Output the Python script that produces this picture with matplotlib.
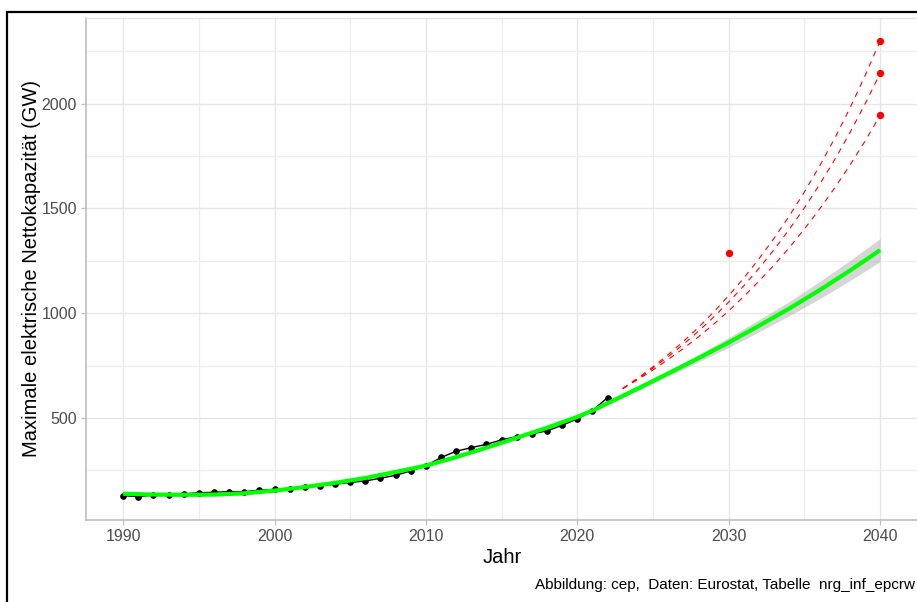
import matplotlib
matplotlib.use("Agg")
import matplotlib.pyplot as plt
from matplotlib.patches import Rectangle
from matplotlib.ticker import MultipleLocator, FixedLocator

plt.rcParams['font.family'] = ['Liberation Sans', 'DejaVu Sans']

# ---- data -------------------------------------------------------------
years_obs = list(range(1990, 2023))
capacity_obs = [129, 124, 132, 132, 137, 143, 145, 148, 148, 155,
                159, 161, 169, 177, 183, 192, 199, 212, 226, 247,
                272, 311, 341, 358, 374, 395, 411, 424, 438, 465,
                495, 535, 597]

fit_years = [1990, 1992, 1994, 1996, 1998, 2000, 2002, 2004, 2006, 2008,
             2010, 2012, 2014, 2016, 2018, 2020, 2021, 2022, 2023, 2024,
             2025, 2026, 2028, 2030, 2032, 2034, 2036, 2038, 2040]
fit_vals = [138, 134, 133, 134, 140, 153, 170, 190, 213, 242,
            272, 313, 358, 405, 453, 505, 535, 570, 605, 640,
            676, 712, 785, 860, 940, 1022, 1110, 1203, 1301]
fit_halfwidth = [10, 8, 7, 6, 6, 6, 5, 5, 5, 5,
                 5, 5, 5, 5, 6, 6, 7, 8, 9, 10,
                 11, 13, 18, 24, 29, 34, 41, 48, 55]

target_years = [2030, 2040, 2040, 2040]
target_vals = [1288, 2300, 2146, 1944]

path_years = list(range(2023, 2041))
path_high = [640, 690, 744, 802, 865, 932, 1005, 1084, 1168, 1260,
             1358, 1464, 1579, 1702, 1835, 1978, 2133, 2300]
path_mid = [640, 687, 738, 792, 851, 914, 981, 1053, 1131, 1214,
            1304, 1400, 1503, 1614, 1733, 1861, 1998, 2145]
path_low = [640, 683, 729, 779, 831, 887, 947, 1011, 1080, 1153,
            1230, 1313, 1402, 1497, 1598, 1706, 1821, 1944]

x_ticks = [1990, 2000, 2010, 2020, 2030, 2040]
y_ticks = [500, 1000, 1500, 2000]

# ---- figure -----------------------------------------------------------
W, H = 917, 602
fig = plt.figure(figsize=(W / 100, H / 100), dpi=100)
ax = fig.add_axes([86 / W, (H - 519.5) / H, (918 - 86) / W, (519.5 - 18) / H])

ax.set_xlim(1987.55, 2042.5)
ax.set_ylim(15, 2409)

# grid
ax.xaxis.set_major_locator(FixedLocator(x_ticks))
ax.xaxis.set_minor_locator(MultipleLocator(5))
ax.yaxis.set_major_locator(FixedLocator(y_ticks))
ax.yaxis.set_minor_locator(FixedLocator([250, 750, 1250, 1750, 2250]))
ax.grid(which='major', color='#E6E6E6', linewidth=1.0, zorder=0)
ax.grid(which='minor', color='#EDEDED', linewidth=0.9, zorder=0)
ax.set_axisbelow(True)

# ribbon
lo = [v - h for v, h in zip(fit_vals, fit_halfwidth)]
hi = [v + h for v, h in zip(fit_vals, fit_halfwidth)]
ax.fill_between(fit_years, lo, hi, color='#999999', alpha=0.4,
                linewidth=0, zorder=2)

# red dashed paths
for p in (path_high, path_mid, path_low):
    ln, = ax.plot(path_years, p, color='red', linewidth=0.8, zorder=3)
    ln.set_dashes([5, 5])

# observed
ax.plot(years_obs, capacity_obs, color='black', linewidth=1.0, zorder=4)
ax.plot(years_obs, capacity_obs, 'o', color='black', markersize=4.8,
        markeredgewidth=0, zorder=5)

# fitted curve
ax.plot(fit_years, fit_vals, color='#00FF00', linewidth=3.0,
        solid_capstyle='butt', zorder=6)

# targets
ax.plot(target_years, target_vals, 'o', color='red', markersize=5.3,
        markeredgewidth=0, zorder=7)

# axes styling
for s in ('left', 'bottom'):
    ax.spines[s].set_color('#BEBEBE')
    ax.spines[s].set_linewidth(1.2)
ax.spines['top'].set_color('#E3E3E3')
ax.spines['top'].set_linewidth(1.0)
ax.spines['right'].set_visible(False)

ax.tick_params(which='major', length=3.5, width=0.9, color='#BEBEBE',
               labelcolor='#4D4D4D', labelsize=11.5, pad=3)
ax.tick_params(which='minor', length=0)

ax.set_xlabel('Jahr', fontsize=14.5, color='black', labelpad=3)
ax.set_ylabel('Maximale elektrische Nettokapazität (GW)', fontsize=14.5,
              color='black', labelpad=0)

fig.text(535 / W, 1 - 585 / H,
         'Abbildung: cep,  Daten: Eurostat, Tabelle  nrg_inf_epcrw',
         fontsize=11, ha='left', va='center', color='black')

# outer frame
fig.patches.append(Rectangle((7 / W, -0.1), 1.2, 1.1 - 12 / H,
                             transform=fig.transFigure, fill=False,
                             edgecolor='black', linewidth=1.6, zorder=10))

fig.savefig('out.png', dpi=100)
